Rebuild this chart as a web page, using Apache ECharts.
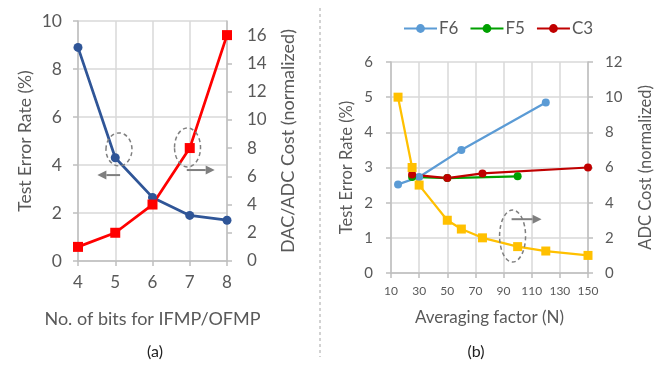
<!DOCTYPE html>
<html><head><meta charset="utf-8">
<script src="https://cdn.jsdelivr.net/npm/echarts@6/dist/echarts.min.js"></script>
<style>html,body{margin:0;padding:0;background:#fff}#c{width:672px;height:366px}</style>
</head><body><div id="c"></div>
<script>
// ---- data (a) ----
const bitsX = [4, 5, 6, 7, 8];
const errRateA = [8.9, 4.3, 2.65, 1.9, 1.7];
const costA = [1, 2, 4, 8, 16];
const costTicksA = [0, 2, 4, 6, 8, 10, 12, 14, 16];
// ---- data (b) ----
const f6X = [15, 30, 60, 120];
const f6Y = [2.52, 2.73, 3.5, 4.85];
const f5X = [25, 50, 100];
const f5Y = [2.73, 2.7, 2.75];
const c3X = [25, 50, 75, 150];
const c3Y = [2.8, 2.7, 2.83, 3.0];
const adcX = [15, 25, 30, 50, 60, 75, 100, 120, 150];
const adcY = [10, 6, 5, 3, 2.5, 2, 1.5, 1.25, 1];

const zip = (xs, ys) => xs.map((x, i) => [x, ys[i]]);
const FONT = 'Lato';
const TXT = '#595959';
const AX = '#BFBFBF';
const GRID = '#D9D9D9';

function valAxis(o) {
  return Object.assign({
    type: 'value',
    axisLine: { show: true, lineStyle: { color: AX, width: 1.5 } },
    axisTick: { show: true, inside: false, length: 5, lineStyle: { color: AX, width: 1.5 } },
    splitLine: { show: true, lineStyle: { color: GRID, width: 1.5 } },
    axisLabel: { color: TXT, fontFamily: FONT, fontSize: 16 },
    nameTextStyle: { color: TXT, fontFamily: FONT, fontSize: 17 },
    nameLocation: 'middle'
  }, o);
}

const chart = echarts.init(document.getElementById('c'), null, { renderer: 'canvas' });

const option = {
  animation: false,
  backgroundColor: '#fff',
  textStyle: { fontFamily: FONT },
  grid: [
    { left: 78, right: 445, top: 21, bottom: 105, containLabel: false },
    { left: 391, right: 84, top: 62, bottom: 93, containLabel: false }
  ],
  legend: {
    data: ['F6', 'F5', 'C3'],
    left: 398, top: 15,
    itemWidth: 33, itemHeight: 11, itemGap: 11,
    textStyle: { color: TXT, fontFamily: FONT, fontSize: 17, padding: [0, 0, 0, -3] }
  },
  xAxis: [
    valAxis({ gridIndex: 0, min: 4, max: 8, interval: 1,
      name: 'No. of bits for IFMP/OFMP', nameGap: 49,
      nameTextStyle: { color: TXT, fontFamily: FONT, fontSize: 18 },
      axisLabel: { color: TXT, fontFamily: FONT, fontSize: 17, margin: 13 } }),
    valAxis({ gridIndex: 1, min: 10, max: 150, interval: 20,
      name: 'Averaging factor (N)', nameGap: 36,
      nameTextStyle: { color: TXT, fontFamily: FONT, fontSize: 17 },
      axisLabel: { color: TXT, fontFamily: FONT, fontSize: 12, margin: 12 } })
  ],
  yAxis: [
    valAxis({ gridIndex: 0, min: 0, max: 10, interval: 2,
      name: 'Test Error Rate (%)', nameGap: 44,
      nameTextStyle: { color: TXT, fontFamily: FONT, fontSize: 17.5 },
      axisLabel: { color: TXT, fontFamily: FONT, fontSize: 17.5, margin: 16 } }),
    valAxis({ gridIndex: 0, min: 0, max: 17, position: 'right', splitLine: { show: false },
      name: 'DAC/ADC Cost (normalized)', nameGap: 52,
      nameTextStyle: { color: TXT, fontFamily: FONT, fontSize: 18 },
      axisLabel: { color: TXT, fontFamily: FONT, fontSize: 17, margin: 20, customValues: costTicksA },
      axisTick: { show: true, length: 5, lineStyle: { color: AX, width: 1.5 }, customValues: costTicksA } }),
    valAxis({ gridIndex: 1, min: 0, max: 6, interval: 1,
      name: 'Test Error Rate (%)', nameGap: 36,
      nameTextStyle: { color: TXT, fontFamily: FONT, fontSize: 16.5 },
      axisLabel: { color: TXT, fontFamily: FONT, fontSize: 15, margin: 18 } }),
    valAxis({ gridIndex: 1, min: 0, max: 12, interval: 2, position: 'right', splitLine: { show: false },
      name: 'ADC Cost (normalized)', nameGap: 49,
      nameTextStyle: { color: TXT, fontFamily: FONT, fontSize: 16.5 },
      axisLabel: { color: TXT, fontFamily: FONT, fontSize: 15, margin: 17 } })
  ],
  series: [
    { name: 'ErrA', type: 'line', xAxisIndex: 0, yAxisIndex: 0, data: zip(bitsX, errRateA),
      symbol: 'circle', symbolSize: 9, lineStyle: { color: '#2F5597', width: 2.75 },
      itemStyle: { color: '#2F5597' } },
    { name: 'CostA', type: 'line', xAxisIndex: 0, yAxisIndex: 1, data: zip(bitsX, costA),
      symbol: 'rect', symbolSize: 10, lineStyle: { color: '#FF0000', width: 2.75 },
      itemStyle: { color: '#FF0000' } },
    { name: 'F6', type: 'line', xAxisIndex: 1, yAxisIndex: 2, data: zip(f6X, f6Y),
      symbol: 'circle', symbolSize: 8, lineStyle: { color: '#5B9BD5', width: 2.25 },
      itemStyle: { color: '#5B9BD5' } },
    { name: 'F5', type: 'line', xAxisIndex: 1, yAxisIndex: 2, data: zip(f5X, f5Y),
      symbol: 'circle', symbolSize: 8, lineStyle: { color: '#00A000', width: 2.25 },
      itemStyle: { color: '#00A000' } },
    { name: 'C3', type: 'line', xAxisIndex: 1, yAxisIndex: 2, data: zip(c3X, c3Y),
      symbol: 'circle', symbolSize: 8, lineStyle: { color: '#C00000', width: 2.25 },
      itemStyle: { color: '#C00000' } },
    { name: 'ADC', type: 'line', xAxisIndex: 1, yAxisIndex: 3, data: zip(adcX, adcY),
      symbol: 'rect', symbolSize: 9, lineStyle: { color: '#FFC000', width: 2.25 },
      itemStyle: { color: '#FFC000' } }
  ]
};
chart.setOption(option);

// annotation anchors in data space
const ANN = '#7F7F7F';
function px(grid, pt) { return chart.convertToPixel({ xAxisIndex: grid === 0 ? 0 : 1, yAxisIndex: grid === 0 ? 0 : 2 }, pt); }
function ellipse(grid, c, rx, ry) {
  const p = px(grid, c);
  return { type: 'ellipse', shape: { cx: p[0], cy: p[1], rx: rx, ry: ry },
    style: { fill: 'none', stroke: ANN, lineWidth: 1.5, lineDash: [4, 3] }, z: 100 };
}
function arrow(grid, a, b) {
  const p = px(grid, a), q = px(grid, b);
  const dir = Math.sign(q[0] - p[0]);
  const tip = q[0], base = q[0] - dir * 9;
  return [
    { type: 'line', shape: { x1: p[0], y1: p[1], x2: base, y2: q[1] }, style: { stroke: ANN, lineWidth: 2 }, z: 100 },
    { type: 'polygon', shape: { points: [[tip, q[1]], [base, q[1] - 4.5], [base, q[1] + 4.5]] }, style: { fill: ANN }, z: 100 }
  ];
}
const graphics = [
  ellipse(0, [5.1, 4.65], 13, 16.5),
  ...arrow(0, [5.13, 3.58], [4.52, 3.58]),
  ellipse(0, [6.94, 4.73], 13, 19.5),
  ...arrow(0, [6.92, 3.79], [7.67, 3.79]),
  ellipse(1, [96.4, 1.05], 13, 26),
  ...arrow(1, [95.7, 1.53], [117, 1.53]),
  { type: 'line', shape: { x1: 320, y1: 8, x2: 320, y2: 357 }, style: { stroke: '#A6A6A6', lineWidth: 1, lineDash: [3, 3] } },
  { type: 'text', x: 155, y: 352, style: { text: '(a)', fill: '#222', font: '16px Lato', textAlign: 'center', textVerticalAlign: 'middle' } },
  { type: 'text', x: 476, y: 352, style: { text: '(b)', fill: '#222', font: '16px Lato', textAlign: 'center', textVerticalAlign: 'middle' } }
];
chart.setOption({ graphic: graphics });
</script>
</body></html>
